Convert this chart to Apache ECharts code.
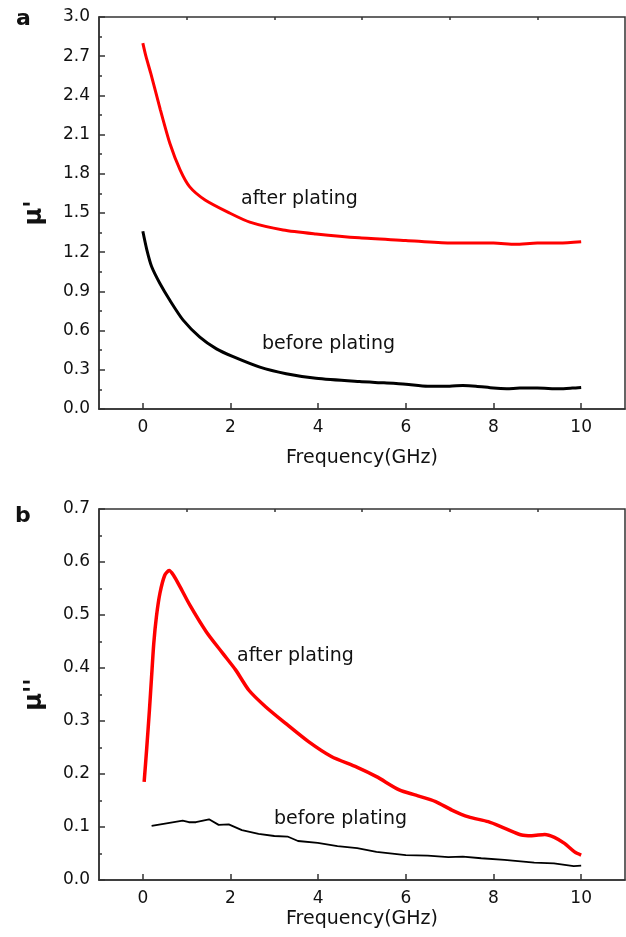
<!DOCTYPE html>
<html>
<head>
<meta charset="utf-8">
<script src="https://cdn.jsdelivr.net/npm/echarts@6/dist/echarts.min.js"></script>
<style>
  html, body { margin: 0; padding: 0; background: #fff; }
  #chart { width: 626px; height: 937px; }
</style>
</head>
<body>
<div id="chart"></div>
<script>
// Frequency ticks shared by both panels
const freqTicks = [0, 2, 4, 6, 8, 10];
const freqMinorTicks = [1, 3, 5, 7, 9];

// Panel a: real permeability mu'
const realAfterF = [0, 0.07, 0.18, 0.4, 0.62, 0.85, 1.07, 1.42, 1.98, 2.44, 3.2, 3.95, 4.94, 6, 7, 8, 8.5, 9, 9.5, 10];
const realAfterV = [2.80, 2.70, 2.57, 2.29, 2.03, 1.83, 1.70, 1.60, 1.50, 1.43, 1.37, 1.34, 1.31, 1.29, 1.27, 1.27, 1.26, 1.27, 1.27, 1.28];
const realBeforeF = [0, 0.09, 0.2, 0.39, 0.62, 0.92, 1.3, 1.68, 2.06, 2.67, 3.27, 3.95, 4.94, 5.5, 6, 6.5, 7, 7.3, 7.6, 8, 8.3, 8.6, 9, 9.5, 9.8, 10];
const realBeforeV = [1.36, 1.22, 1.09, 0.96, 0.83, 0.68, 0.55, 0.46, 0.40, 0.32, 0.27, 0.235, 0.21, 0.20, 0.19, 0.175, 0.175, 0.18, 0.175, 0.16, 0.155, 0.16, 0.16, 0.155, 0.16, 0.165];

// Panel b: imaginary permeability mu''
const imagAfterF = [0.03, 0.09, 0.15, 0.2, 0.25, 0.31, 0.39, 0.5, 0.6, 0.7, 0.85, 1.07, 1.45, 1.82, 2.12, 2.42, 2.8, 3.25, 3.78, 4.3, 4.88, 5.33, 5.85, 6.23, 6.68, 7.05, 7.43, 7.88, 8.26, 8.64, 8.87, 9.17, 9.39, 9.62, 9.85, 10.0];
const imagAfterV = [0.185, 0.25, 0.32, 0.384, 0.447, 0.497, 0.541, 0.575, 0.584, 0.575, 0.553, 0.519, 0.468, 0.428, 0.396, 0.358, 0.327, 0.296, 0.261, 0.233, 0.213, 0.195, 0.170, 0.160, 0.148, 0.132, 0.119, 0.110, 0.0975, 0.085, 0.0836, 0.086, 0.0805, 0.069, 0.053, 0.047];
const imagBeforeF = [0.2, 0.54, 0.91, 1.05, 1.21, 1.51, 1.73, 1.96, 2.26, 2.64, 3.0, 3.3, 3.54, 3.99, 4.44, 4.89, 5.33, 6.0, 6.5, 6.97, 7.3, 7.72, 8.25, 8.93, 9.38, 9.83, 10.0];
const imagBeforeV = [0.102, 0.107, 0.112, 0.109, 0.109, 0.1145, 0.104, 0.105, 0.094, 0.087, 0.083, 0.082, 0.0736, 0.070, 0.064, 0.060, 0.053, 0.047, 0.046, 0.043, 0.044, 0.041, 0.038, 0.0327, 0.0315, 0.026, 0.027];

const FONT = 'DejaVu Sans';
const zip = (xs, ys) => xs.map((x, i) => [x, ys[i]]);

const chart = echarts.init(document.getElementById('chart'), null, { renderer: 'canvas' });

function freqAxis(gridIndex, nameGap) {
  return {
    type: 'value', gridIndex, min: -1, max: 11,
    name: 'Frequency(GHz)', nameLocation: 'middle', nameGap,
    nameTextStyle: { fontFamily: FONT, fontSize: 19, color: '#111' },
    axisLine: { show: true, onZero: false, lineStyle: { color: '#333', width: 1.5 } },
    axisTick: { show: true, inside: true, length: 6, customValues: freqTicks, lineStyle: { color: '#333', width: 1.5 } },
    axisLabel: { customValues: freqTicks, fontFamily: FONT, fontSize: 17, color: '#111', margin: 10 },
    splitLine: { show: false }
  };
}
function freqMinorAxis(gridIndex) {
  return {
    type: 'value', gridIndex, min: -1, max: 11,
    axisLine: { show: false, onZero: false },
    axisTick: { show: true, inside: true, length: 3, customValues: freqMinorTicks, lineStyle: { color: '#333', width: 1.5 } },
    axisLabel: { show: false },
    splitLine: { show: false }
  };
}
function muAxis(gridIndex, name, max, interval) {
  return {
    type: 'value', gridIndex, min: 0, max, interval,
    name, nameLocation: 'middle', nameGap: 52, nameRotate: 90,
    nameTextStyle: { fontFamily: FONT, fontSize: 24, fontWeight: 'bold', color: '#111' },
    axisLine: { show: true, onZero: false, lineStyle: { color: '#333', width: 1.5 } },
    axisTick: { show: true, inside: true, length: 6, lineStyle: { color: '#333', width: 1.5 } },
    minorTick: { show: true, splitNumber: 2, length: 3, lineStyle: { color: '#333', width: 1.5 } },
    axisLabel: { fontFamily: FONT, fontSize: 17, color: '#111', margin: 9, formatter: v => v.toFixed(1) },
    splitLine: { show: false }
  };
}
function curve(xAxisIndex, yAxisIndex, data, color, width, smooth) {
  return {
    type: 'line', xAxisIndex, yAxisIndex, data,
    showSymbol: false, smooth, silent: true,
    lineStyle: { color, width }
  };
}
function note(text, left, top, size, weight) {
  return {
    type: 'text', left, top,
    style: { text, fontFamily: FONT, fontSize: size, fontWeight: weight || 'normal', fill: '#111' }
  };
}

chart.setOption({
  animation: false,
  backgroundColor: '#fff',
  grid: [
    { left: 99, top: 17, width: 526, height: 392, show: true, borderColor: '#333', borderWidth: 1.5 },
    { left: 99, top: 509, width: 526, height: 371, show: true, borderColor: '#333', borderWidth: 1.5 }
  ],
  xAxis: [freqAxis(0, 40), freqMinorAxis(0), freqAxis(1, 30), freqMinorAxis(1)],
  yAxis: [muAxis(0, "μ'", 3, 0.3), muAxis(1, "μ''", 0.7, 0.1)],
  series: [
    curve(0, 0, zip(realAfterF, realAfterV), '#ff0000', 3, 0.25),
    curve(0, 0, zip(realBeforeF, realBeforeV), '#000000', 3, 0.25),
    curve(2, 1, zip(imagAfterF, imagAfterV), '#ff0000', 3.5, 0.25),
    curve(2, 1, zip(imagBeforeF, imagBeforeV), '#000000', 1.8, false)
  ],
  graphic: [
    note('a', 16, 8, 22, 'bold'),
    note('b', 15, 505, 22, 'bold'),
    note('after plating', 241, 190, 19),
    note('before plating', 262, 335, 19),
    note('after plating', 237, 647, 19),
    note('before plating', 274, 810, 19)
  ]
});
</script>
</body>
</html>
